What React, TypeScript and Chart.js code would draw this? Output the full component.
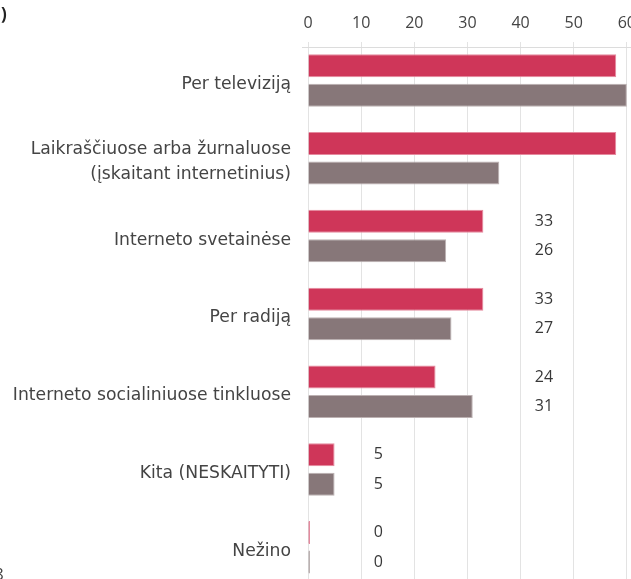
import React, { useEffect, useRef } from "react";
import { Chart, registerables } from "chart.js";

Chart.register(...registerables);

const categories: (string | string[])[] = [
  "Per televiziją",
  ["Laikraščiuose arba žurnaluose", "(įskaitant internetinius)"],
  "Interneto svetainėse",
  "Per radiją",
  "Interneto socialiniuose tinkluose",
  "Kita (NESKAITYTI)",
  "Nežino",
];
const seriesA = [58, 58, 33, 33, 24, 5, 0];
const seriesB = [60, 36, 26, 27, 31, 5, 0];
const labelColumn = [72.5, 72.5, 42.5, 42.5, 42.5, 12.2, 12.2];
const xTicks = [0, 10, 20, 30, 40, 50, 60, 70];

const FONT = "'Open Sans', sans-serif";
const CAT_FONT = "'DejaVu Sans', sans-serif";

const valueLabels = {
  id: "valueLabels",
  beforeDatasetsDraw(chart: any) {
    const { ctx } = chart;
    ctx.save();
    ctx.strokeStyle = "#dcdcdc";
    ctx.lineWidth = 1;
    ctx.beginPath();
    ctx.moveTo(302, 47.5);
    ctx.lineTo(chart.width, 47.5);
    ctx.stroke();
    ctx.restore();
  },
  afterDatasetsDraw(chart: any) {
    const { ctx, scales } = chart;
    ctx.save();
    ctx.font = `16px ${FONT}`;
    ctx.fillStyle = "#383838";
    ctx.textAlign = "left";
    ctx.textBaseline = "middle";
    chart.data.datasets.forEach((ds: any, di: number) => {
      const meta = chart.getDatasetMeta(di);
      meta.data.forEach((bar: any, i: number) => {
        const x = scales.x.getPixelForValue(labelColumn[i]);
        ctx.fillText(String(ds.data[i]), x + 1, bar.y);
      });
    });
    ctx.restore();
  },
  afterDraw(chart: any) {
    const { ctx } = chart;
    ctx.save();
    ctx.fillStyle = "#222222";
    ctx.font = `bold 17px ${FONT}`;
    ctx.textBaseline = "middle";
    ctx.textAlign = "left";
    ctx.fillText(")", 1, 15);
    ctx.font = `17px ${FONT}`;
    ctx.fillStyle = "#444444";
    ctx.textBaseline = "top";
    ctx.fillText("8", -6, 567);
    ctx.restore();
  },
};

export default function App() {
  const ref = useRef<HTMLCanvasElement>(null);
  useEffect(() => {
    if (!ref.current) return;
    const chart = new Chart(ref.current, {
      type: "bar",
      data: {
        labels: categories,
        datasets: [
          {
            label: "A",
            data: seriesA,
            backgroundColor: "#cf3659",
            borderColor: "#e58a9e",
            borderWidth: 1,
            minBarLength: 2,
            categoryPercentage: 0.758,
            barPercentage: 0.78,
          },
          {
            label: "B",
            data: seriesB,
            backgroundColor: "#877779",
            borderColor: "#bcb1b2",
            borderWidth: 1,
            minBarLength: 2,
            categoryPercentage: 0.758,
            barPercentage: 0.78,
          },
        ],
      },
      options: {
        indexAxis: "y",
        responsive: false,
        animation: false,
        devicePixelRatio: 1,
        layout: { padding: { left: 0, top: 0, right: 40, bottom: 13.8 } },
        plugins: {
          legend: { display: false },
          tooltip: { enabled: false },
          title: { display: false },
        },
        scales: {
          x: {
            position: "top",
            min: 0,
            max: 70,
            afterFit: (s: any) => {
              s.height = 41.6;
            },
            afterBuildTicks: (s: any) => {
              s.ticks = xTicks.map((v) => ({ value: v }));
            },
            grid: {
              color: "#e3e3e3",
              drawTicks: false,
            },
            border: { display: false },
            ticks: {
              padding: 9,
              color: "#444444",
              font: { family: FONT, size: 16 },
            },
          },
          y: {
            afterFit: (s: any) => {
              s.width = 308;
              s.paddingTop = 0;
              s.paddingBottom = 0;
            },
            grid: { display: false, drawTicks: false },
            border: { display: false },
            ticks: {
              padding: 17,
              labelOffset: 4,
              color: "#444444",
              font: { family: CAT_FONT, size: 17.2, lineHeight: 1.45 },
            },
          },
        },
      },
      plugins: [valueLabels],
    });
    return () => chart.destroy();
  }, []);

  return (
    <div
      style={{
        position: "fixed",
        left: 0,
        top: 0,
        width: 631,
        height: 579,
        overflow: "hidden",
        background: "#ffffff",
      }}
    >
      <canvas ref={ref} width={720} height={600} style={{ display: "block" }} />
    </div>
  );
}
